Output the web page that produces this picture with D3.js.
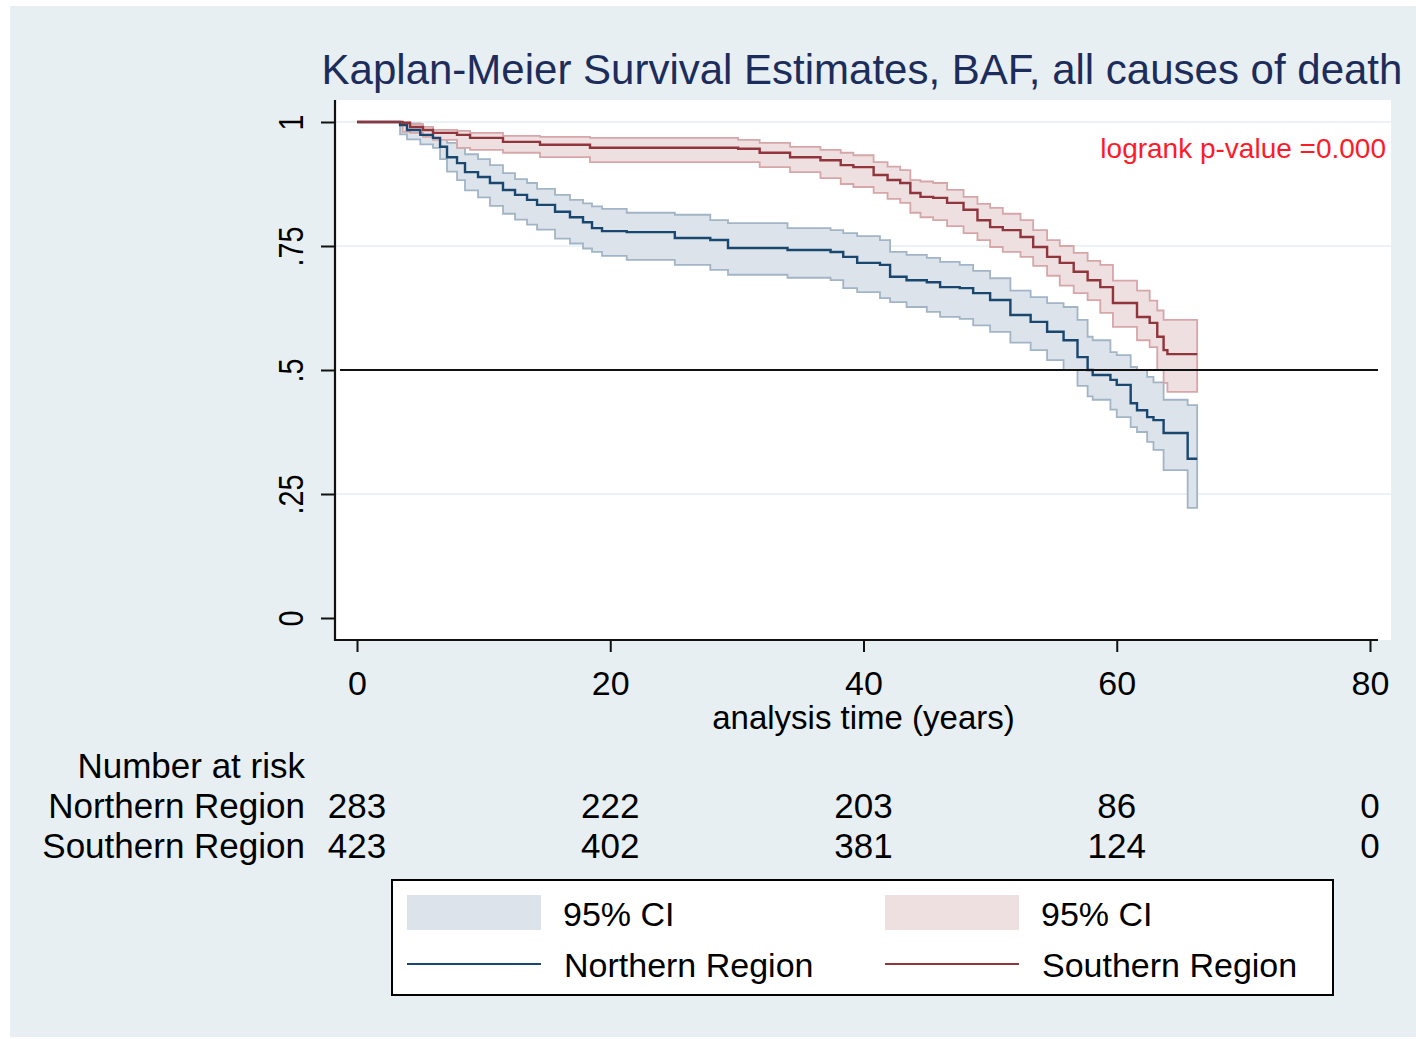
<!DOCTYPE html>
<html><head><meta charset="utf-8">
<script src="https://cdn.jsdelivr.net/npm/d3@7"></script>
<style>body{margin:0;background:#fff}svg{display:block}text{font-family:"Liberation Sans",Arial,sans-serif}</style>
</head><body>
<script>
// ---------- data ----------
const titleText = "Kaplan-Meier Survival Estimates, BAF, all causes of death";
const xTicks = [0, 20, 40, 60, 80];
const yTicks = [0, 0.25, 0.5, 0.75, 1];
const yTickLabels = ["0", ".25", ".5", ".75", "1"];
const groups = ["Northern Region", "Southern Region"];
const endTime = 66.35;

const northTime = [0,3.4,3.95,5.0,6.0,6.56,7.11,7.9,8.53,9.56,10.5,11.53,12.48,13.43,14.22,15.64,16.82,17.85,18.56,19.35,21.3,25.1,27.9,29.3,34.0,37.4,38.4,39.5,41.3,42.1,43.4,45.0,46.05,47.6,48.66,50.0,51.6,53.2,54.5,55.8,56.9,57.7,58.1,59.5,60.0,61.1,61.6,62.4,62.9,63.7,65.6];
const northSurv = [1,.994,.984,.974,.968,.950,.929,.917,.899,.889,.877,.863,.853,.843,.833,.819,.808,.798,.786,.780,.778,.766,.762,.746,.742,.738,.728,.716,.712,.688,.681,.677,.667,.665,.655,.641,.611,.597,.577,.560,.526,.500,.490,.480,.470,.433,.419,.405,.399,.373,.321];
const northLo = [1,.975,.965,.955,.948,.925,.900,.883,.862,.848,.831,.815,.803,.793,.783,.765,.755,.745,.738,.730,.722,.712,.702,.692,.686,.681,.665,.657,.645,.637,.627,.617,.607,.603,.590,.577,.555,.540,.520,.500,.468,.447,.440,.420,.405,.385,.375,.355,.339,.298,.222];
const northHi = [1,.999,.997,.990,.976,.968,.958,.948,.935,.925,.913,.897,.885,.877,.865,.853,.843,.836,.830,.825,.817,.813,.802,.796,.786,.782,.776,.770,.762,.738,.732,.726,.718,.712,.700,.685,.660,.647,.635,.627,.601,.567,.560,.536,.530,.506,.500,.486,.475,.440,.429];

const southTime = [0,3.6,4.19,5.21,6.0,7.9,8.93,11.53,14.45,18.4,30.1,31.8,34.2,36.6,38.2,39.2,40.8,41.9,42.9,43.7,44.5,45.5,46.6,47.9,49.0,50.0,51.0,52.4,53.4,54.5,55.5,56.6,57.7,58.7,59.7,61.6,62.6,63.2,63.7,64.0];
const southSurv = [1,.998,.990,.984,.978,.974,.968,.960,.954,.948,.946,.938,.929,.923,.913,.909,.893,.883,.877,.857,.849,.847,.837,.823,.802,.788,.782,.768,.748,.728,.716,.698,.681,.667,.635,.607,.595,.567,.540,.532];
const southLo = [1,.980,.978,.970,.964,.948,.944,.938,.929,.919,.919,.909,.899,.887,.875,.869,.857,.845,.837,.817,.808,.802,.790,.776,.762,.748,.738,.728,.710,.690,.670,.655,.641,.615,.587,.560,.546,.500,.474,.456];
const southHi = [1,1.0,.996,.990,.984,.982,.978,.972,.970,.968,.964,.958,.950,.944,.938,.933,.919,.910,.903,.883,.880,.877,.863,.849,.835,.827,.815,.802,.782,.762,.750,.736,.720,.712,.680,.660,.640,.620,.601,.601];

const riskNorth = [283, 222, 203, 86, 0];
const riskSouth = [423, 402, 381, 124, 0];
const pText = "logrank p-value =0.000";

// ---------- drawing ----------
const W = 1416, H = 1039;
const svg = d3.select("body").append("svg").attr("width", W).attr("height", H);
svg.append("rect").attr("x", 10).attr("y", 6).attr("width", W - 10).attr("height", H - 8).attr("fill", "#e8eff2");
const plot = {l: 335, r: 1391, t: 100, b: 640};
svg.append("rect").attr("x", plot.l).attr("y", plot.t).attr("width", plot.r - plot.l).attr("height", plot.b - plot.t).attr("fill", "#fff");

const x = d3.scaleLinear([0, 80], [357, 1370]);
const y = d3.scaleLinear([0, 1], [618, 122]);

// gridlines
svg.append("g").selectAll("line").data([0.25, 0.75, 1]).join("line")
  .attr("x1", plot.l).attr("x2", plot.r).attr("y1", d => y(d)).attr("y2", d => y(d))
  .attr("stroke", "#e6eff2").attr("stroke-width", 1.6);

function mk(time, s, lo, hi) {
  const a = time.map((t, i) => ({t, s: s[i], lo: lo[i], hi: hi[i]}));
  const last = a[a.length - 1];
  a.push({t: endTime, s: last.s, lo: last.lo, hi: last.hi});
  return a;
}
const north = mk(northTime, northSurv, northLo, northHi);
const south = mk(southTime, southSurv, southLo, southHi);

const area = d3.area().curve(d3.curveStepAfter).x(d => x(d.t)).y0(d => y(d.lo)).y1(d => y(d.hi));
const line = d3.line().curve(d3.curveStepAfter).x(d => x(d.t)).y(d => y(d.s));

const cols = {
  n: {fill: "#dce3ea", edge: "#a2b5c7", line: "#1a476f"},
  s: {fill: "#eedfe0", edge: "#d6a6a9", line: "#90353b"}
};
svg.append("path").datum(north).attr("d", area).attr("fill", cols.n.fill).attr("stroke", cols.n.edge).attr("stroke-width", 1.8);
svg.append("path").datum(south).attr("d", area).attr("fill", cols.s.fill).attr("stroke", cols.s.edge).attr("stroke-width", 1.8);
svg.append("path").datum(north).attr("d", line).attr("fill", "none").attr("stroke", cols.n.line).attr("stroke-width", 2.4);
svg.append("path").datum(south).attr("d", line).attr("fill", "none").attr("stroke", cols.s.line).attr("stroke-width", 2.4);

// reference line at 0.5
svg.append("line").attr("x1", 340).attr("x2", 1378).attr("y1", y(0.5)).attr("y2", y(0.5))
  .attr("stroke", "#111").attr("stroke-width", 2);

// axes
const yAxis = svg.append("g").attr("transform", `translate(${plot.l},0)`)
  .call(d3.axisLeft(y).tickValues(yTicks).tickSize(14).tickFormat((d, i) => yTickLabels[i]));
yAxis.select(".domain").remove();
yAxis.selectAll(".tick line").attr("stroke", "#111").attr("stroke-width", 2);
yAxis.selectAll(".tick text").attr("x", null).attr("dy", null).attr("text-anchor", "middle")
  .attr("transform", "translate(-32,0) rotate(-90) scale(0.8,1)")
  .attr("font-size", 36).attr("fill", "#000").style("font-family", '"Liberation Sans",Arial,sans-serif');
svg.append("line").attr("x1", plot.l).attr("x2", plot.l).attr("y1", plot.t).attr("y2", plot.b + 1)
  .attr("stroke", "#111").attr("stroke-width", 2.2);

const xAxis = svg.append("g").attr("transform", `translate(0,${plot.b})`)
  .call(d3.axisBottom(x).tickValues(xTicks).tickSize(12).tickFormat(d3.format("d")));
xAxis.select(".domain").remove();
xAxis.selectAll(".tick line").attr("stroke", "#111").attr("stroke-width", 2);
xAxis.selectAll(".tick text").attr("y", 55).attr("dy", null).attr("font-size", 34).attr("fill", "#000")
  .style("font-family", '"Liberation Sans",Arial,sans-serif');
svg.append("line").attr("x1", plot.l - 1).attr("x2", 1378).attr("y1", plot.b).attr("y2", plot.b)
  .attr("stroke", "#111").attr("stroke-width", 2.2);

svg.append("text").attr("x", x(40)).attr("y", 729).attr("text-anchor", "middle").attr("font-size", 33)
  .text("analysis time (years)");

// title
svg.append("text").attr("x", 862).attr("y", 84).attr("text-anchor", "middle").attr("font-size", 42)
  .attr("fill", "#1c2d5c").text(titleText);

// p-value
svg.append("text").attr("x", 1386).attr("y", 158).attr("text-anchor", "end").attr("font-size", 28)
  .attr("fill", "#ff1a2a").text(pText);

// number at risk table
svg.append("text").attr("x", 305).attr("y", 778).attr("text-anchor", "end").attr("font-size", 35).text("Number at risk");
[[groups[0], riskNorth, 818], [groups[1], riskSouth, 858]].forEach(([g, vals, yy]) => {
  svg.append("text").attr("x", 305).attr("y", yy).attr("text-anchor", "end").attr("font-size", 35).text(g);
  svg.append("g").selectAll("text").data(vals).join("text")
    .attr("x", (d, i) => x(xTicks[i])).attr("y", yy).attr("text-anchor", "middle").attr("font-size", 35).text(d => d);
});

// legend
const lg = svg.append("g");
lg.append("rect").attr("x", 392).attr("y", 880).attr("width", 941).attr("height", 115)
  .attr("fill", "#fff").attr("stroke", "#000").attr("stroke-width", 2);
const legItems = [
  {x: 407, fill: cols.n.fill, line: cols.n.line, name: groups[0]},
  {x: 885, fill: cols.s.fill, line: cols.s.line, name: groups[1]}
];
legItems.forEach(it => {
  lg.append("rect").attr("x", it.x).attr("y", 895).attr("width", 134).attr("height", 35).attr("fill", it.fill);
  lg.append("line").attr("x1", it.x).attr("x2", it.x + 134).attr("y1", 964).attr("y2", 964).attr("stroke", it.line).attr("stroke-width", 2);
  lg.append("text").attr("x", it.x + 156).attr("y", 926).attr("font-size", 34).text("95% CI");
  lg.append("text").attr("x", it.x + 157).attr("y", 977).attr("font-size", 34).text(it.name);
});
</script>
</body></html>
